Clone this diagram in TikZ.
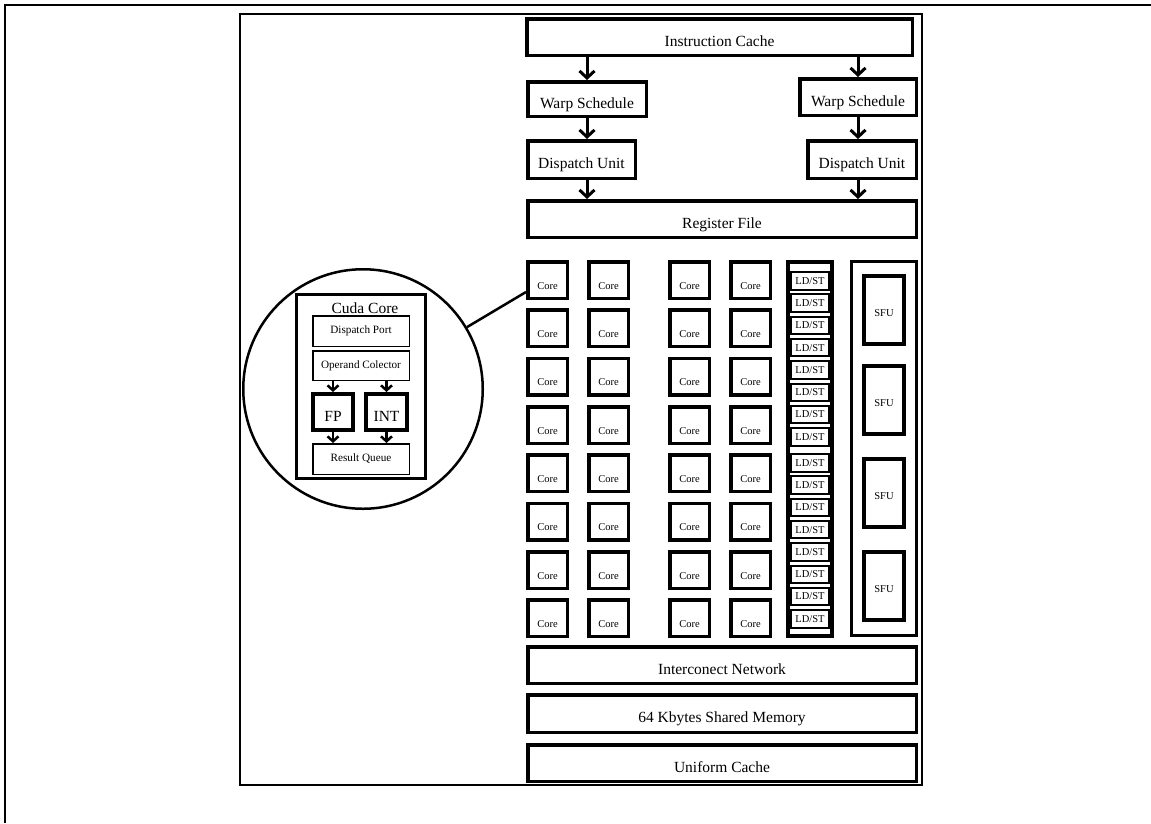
\documentclass[tikz,border=0pt]{standalone}
\usepackage{fontspec}
\setmainfont{Liberation Serif}
\usetikzlibrary{arrows.meta,calc}
\begin{document}
\begin{tikzpicture}[x=1pt,y=-1pt,
  bigfont/.style={font=\fontsize{15.5}{18}\selectfont},
  smallfont/.style={font=\fontsize{10.5}{12}\selectfont},
  midfont/.style={font=\fontsize{11.2}{13}\selectfont},
  blk/.style={draw, line width=3.5pt, inner sep=0pt, bigfont, text height=18pt, text depth=0pt},
  corebox/.style={draw, line width=3.5pt, inner sep=0pt, smallfont, minimum width=39.5pt, minimum height=36.5pt, text height=18pt, text depth=0pt},
  ldcolumn/.style={draw, line width=4pt, inner sep=0pt, minimum width=44pt, minimum height=374pt},
  ldbox/.style={draw, line width=2pt, inner sep=0pt, smallfont, minimum width=38pt, minimum height=17.5pt},
  sfucolumn/.style={draw, line width=3pt, inner sep=0pt, minimum width=65pt, minimum height=374pt},
  sfubox/.style={draw, line width=4pt, inner sep=0pt, smallfont, minimum width=40pt, minimum height=68pt, text height=13pt, text depth=0pt},
  thinbox/.style={draw, line width=1.5pt, inner sep=0pt, midfont, minimum width=96.5pt},
  unitbox/.style={draw, line width=4pt, inner sep=0pt, bigfont, minimum height=36pt, text height=18pt, text depth=0pt},
  arr/.style={line width=3pt, -{Straight Barb[length=7pt,width=15pt,line width=3pt]}},
  sarr/.style={line width=2.5pt, -{Straight Barb[length=5pt,width=11pt,line width=2.5pt]}},
  framel/.style={line width=1.2pt}
]
\useasboundingbox (0,0) rectangle (1151,823);
% frames
\draw[framel] (1151,5) -- (5,5) -- (5,823);
\draw[framel] (240,14) rectangle (922,785);

% top blocks
\node[blk, minimum width=385.5pt, minimum height=36.5pt] (ic) at (719.5,37) {Instruction Cache};
\node[blk, minimum width=118.5pt, minimum height=34.5pt] (wl) at (587,99) {Warp Schedule};
\node[blk, minimum width=116.5pt, minimum height=36.5pt] (wr) at (858,97) {Warp Schedule};
\node[blk, minimum width=107.5pt, minimum height=37.5pt] (dl) at (581.5,159.5) {Dispatch Unit};
\node[blk, minimum width=108.5pt, minimum height=37.5pt] (dr) at (862,159.5) {Dispatch Unit};
\node[blk, minimum width=388.5pt, minimum height=36.5pt] (rf) at (722,219) {Register File};

\draw[arr] (ic.south -| wl.north) -- (wl.north);
\draw[arr] (ic.south -| wr.north) -- (wr.north);
\draw[arr] (wl.south) -- (wl.south |- dl.north);
\draw[arr] (wr.south) -- (wr.south |- dr.north);
\draw[arr] (wl.south |- dl.south) -- (wl.south |- rf.north);
\draw[arr] (wr.south |- dr.south) -- (wr.south |- rf.north);

% cores
\foreach \c/\x in {1/547.5,2/608.5,3/689.5,4/750.5}{
  \foreach \r in {1,...,8}{
    \node[corebox] (c\r\c) at (\x,{280+48.35*(\r-1)}) {Core};
  }
}

% LD/ST
\node[ldcolumn] (ldcol) at (810,449) {};
\foreach \i in {0,...,7}{
  \node[ldbox] (la\i) at (810,{280.75+22.3*\i}) {LD/ST};
  \node[ldbox] (lb\i) at (810,{462.75+22.3*\i}) {LD/ST};
}

% SFU
\node[sfucolumn] (sfucol) at (884,448.5) {};
\foreach \i/\y in {1/310,2/400,3/492.5,4/586}{
  \node[sfubox] (sfu\i) at (884,\y) {SFU};
}

% bottom blocks
\node[blk, minimum width=388.5pt, minimum height=36.5pt] (inet) at (722,665) {Interconect Network};
\node[blk, minimum width=388.5pt, minimum height=37.5pt] (smem) at (722,713.5) {64 Kbytes Shared Memory};
\node[blk, minimum width=388.5pt, minimum height=36.5pt] (uc) at (722,763) {Uniform Cache};

% zoom lens
\node[draw, circle, line width=2.5pt, minimum size=239.5pt, inner sep=0pt] (circ) at (363,389) {};
\coordinate (cend) at ($(c11.west)!0.6!(c11.south west)$);
\draw[line width=2.5pt] (circ) -- (cend);

\node[draw, line width=3pt, inner sep=0pt, minimum width=129pt, minimum height=184pt] (cc) at (361,386.5) {};
\node[bigfont, anchor=base, inner sep=0pt] (cctitle) at (365,313) {Cuda Core};
\node[thinbox, minimum height=30.5pt] (dp) at (361,331) {Dispatch Port};
\node[thinbox, minimum height=29.5pt] (oc) at (361,365.5) {Operand Colector};
\node[unitbox, minimum width=40pt] (fp) at (333,412) {FP};
\node[unitbox, minimum width=41pt] (int) at (386.5,412) {INT};
\node[thinbox, minimum height=30.5pt] (rq) at (361,459) {Result Queue};

\draw[sarr] (oc.south -| fp.north) -- (fp.north);
\draw[sarr] (oc.south -| int.north) -- (int.north);
\draw[sarr] (fp.south) -- (fp.south |- rq.north);
\draw[sarr] (int.south) -- (int.south |- rq.north);
\end{tikzpicture}
\end{document}
